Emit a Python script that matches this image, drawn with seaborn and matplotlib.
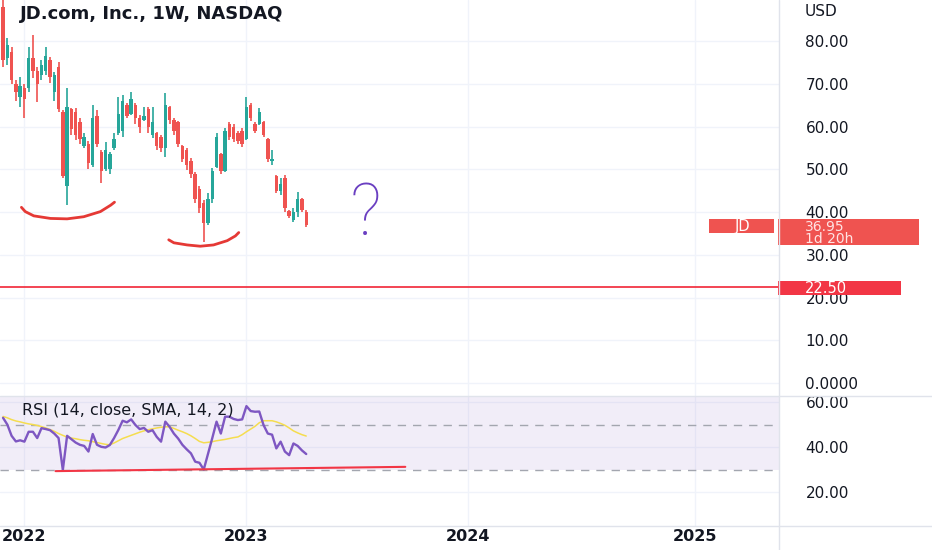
import numpy as np
import pandas as pd
import matplotlib
matplotlib.use("Agg")
import matplotlib.pyplot as plt
from matplotlib.lines import Line2D
from matplotlib.patches import Rectangle
from matplotlib.transforms import blended_transform_factory
import seaborn as sns

# ── values (weekly bars, JD) ─────────────────────────────────────────────────
first_week = "2021-11-29"

opens = [88, 76, 77.5, 70, 67, 69, 69, 76, 73, 72, 73, 75.5, 68, 74, 63.5, 46,
         64, 63.5, 61, 55.5, 56, 51, 62.5, 54, 50, 50, 55, 58.5, 59, 65, 63, 65,
         62, 61.5, 64, 58, 58.5, 57.5, 55, 64.5, 61.5, 61, 55.5, 54.5, 52, 49,
         45.5, 42, 37.5, 43, 50.5, 53.5, 49.5, 60.5, 60, 58.5, 59, 57, 65, 60.5,
         60.5, 61, 57, 52, 48.5, 45, 48, 40.2, 38.2, 40, 43, 40]
highs = [91, 80.8, 78.5, 71, 71.5, 70, 78.5, 81.3, 74, 75.5, 78.5, 76.2, 72.7, 75,
         63.8, 69, 64.3, 64.3, 62, 58.4, 56.5, 65, 63.8, 54.5, 56.3, 54, 58.4, 67,
         67.3, 65.5, 68, 65.5, 62.6, 64.5, 64.5, 64.5, 58.8, 58, 67.8, 64.8, 62,
         61.4, 55.7, 55, 52.6, 49.3, 46, 42.8, 44.4, 50.2, 58.6, 53.7, 59.6, 61,
         60.7, 59, 59.6, 66.8, 65.4, 61, 64.3, 61.4, 57.2, 54.4, 48.6, 47.9, 48.6,
         40.4, 40.9, 44.6, 43.2, 40.4]
lows = [74, 74.5, 70, 66, 64.5, 62, 68, 71.3, 65.7, 71, 72, 70.3, 66, 63.3, 47.9,
        41.6, 58, 56.8, 56, 55, 50, 50.5, 55.2, 46.7, 49.5, 49, 54.5, 58, 57.5, 62,
        62.8, 60.7, 58.4, 61.3, 58.6, 57.2, 54.4, 54, 52.8, 60.7, 58, 55.2, 51.6,
        49.8, 47.9, 42, 39.7, 33, 37, 42, 50.2, 49, 49.3, 56.8, 56.3, 56, 55.2,
        56.8, 61.4, 58.4, 60.3, 57.5, 51.6, 51, 44.4, 43.9, 40, 38.5, 37.6, 38.8,
        40, 36.5]
closes = [75.5, 79, 71, 68, 69.5, 66.5, 76, 73, 70, 74.5, 76.5, 71.5, 72, 64, 48.5,
          64.5, 59.5, 58, 57, 57.5, 51.5, 62, 56, 49.5, 54.5, 53.5, 57, 63, 66,
          62.5, 66.5, 62, 60, 62.5, 60, 61, 55.5, 55, 65, 61.5, 59, 56, 52.5, 51,
          49, 43, 41, 37.5, 43, 49.5, 57.5, 49.5, 59, 57.5, 57, 56.5, 56, 64.5, 62,
          59, 63.5, 58, 52.5, 52.5, 45, 46.5, 41, 39, 40, 43, 40.5, 36.95]

rsi = [53, 50, 45, 42.5, 43, 42.4, 46.8, 46.8, 44, 48.4, 48, 47.5, 46, 44, 29.8, 45,
       43.5, 42, 41, 40.5, 38, 45.8, 41, 40.1, 39.8, 40.9, 44, 47.6, 51.7, 51, 52.3,
       49.8, 48, 48.5, 46.8, 47.5, 44.5, 42.4, 51.3, 49, 46, 43.8, 41, 39, 37.2,
       33.5, 33, 30, 37, 44, 51.3, 46, 53.5, 53.5, 52.5, 52, 52.3, 58.2, 56, 55.7,
       55.8, 49.8, 46, 45.5, 39.4, 42.4, 38, 36.4, 41.6, 40.5, 38.5, 36.9]
rsi_ma = [53.6, 53, 52.2, 51.6, 51.2, 50.7, 50.3, 50, 49.6, 49.1, 48.5, 47.8, 47, 46,
          45.2, 44.4, 44, 43.7, 43.3, 43, 42.8, 42.4, 42, 41.6, 41.2, 41, 41.8, 42.8,
          43.8, 44.5, 45.2, 45.9, 46.6, 47.2, 47.7, 48.1, 48.5, 48.8, 49, 49, 48.3,
          47.5, 46.8, 46, 45, 43.8, 42.5, 41.9, 42.1, 42.4, 42.8, 43.1, 43.4, 43.8,
          44.2, 44.5, 45.5, 46.8, 48, 49.2, 50.8, 51.7, 51.7, 51.7, 51.2, 50.5, 49.7,
          48.5, 47.2, 46.3, 45.5, 44.9]

price_ticks = [80, 70, 60, 50, 40, 30, 20, 10, 0]
price_labels = ["80.00", "70.00", "60.00", "50.00", "40.00", "30.00", "20.00",
                "10.00", "0.0000"]
rsi_ticks = [60, 40, 20]
rsi_labels = ["60.00", "40.00", "20.00"]
year_ticks = ["2022-01-03", "2023-01-02", "2024-01-01", "2025-01-06"]
year_labels = ["2022", "2023", "2024", "2025"]
last_price = 36.95
level_price = 22.50

# hand-drawn marks (week offset from first bar, price / rsi)
arc1_wk = [4.3, 5.2, 7.2, 11.1, 15.0, 18.9, 22.8, 25.2, 26.1]
arc1_val = [41.1, 40.1, 39.1, 38.5, 38.4, 38.9, 40.1, 41.6, 42.3]
arc2_wk = [38.8, 40.0, 43.1, 46.2, 49.3, 52.5, 54.4, 55.2]
arc2_val = [33.5, 32.8, 32.3, 32.0, 32.3, 33.3, 34.4, 35.2]
rsi_line_wk = [12.3, 94.2]
rsi_line_val = [29.3, 31.2]

TEAL = "#26a69a"
RED = "#ef5350"
TXT = "#131722"
GRID = "#f0f3fa"
SEP = "#e0e3eb"

sns.set_theme(style="white")
plt.rcParams["font.family"] = ["DejaVu Sans"]

W, H = 932, 550
fig = plt.figure(figsize=(W / 100, H / 100), dpi=100)
fig.patch.set_facecolor("white")
pane_w = 779 / W
ax = fig.add_axes([0, 1 - 396 / H, pane_w, 396 / H])
ax_rsi = fig.add_axes([0, 24 / H, pane_w, 130 / H], sharex=ax)

start = pd.Timestamp(first_week)
df = pd.DataFrame({
    "week": pd.date_range(start, periods=len(opens), freq="7D"),
    "open": opens, "high": highs, "low": lows, "close": closes,
    "rsi": rsi, "rsi_ma": rsi_ma,
})


def wk(offsets):
    return [start + pd.Timedelta(days=7 * o) for o in offsets]


# ── price pane ─────────────────────────────────────────────────────────────
up = df["close"] >= df["open"]
colors = np.where(up, TEAL, RED)
ax.vlines(df["week"], df["low"], df["high"], colors=colors, lw=1.2, zorder=3)
body_lo = np.minimum(df["open"], df["close"])
body_h = np.maximum((df["close"] - df["open"]).abs(), 0.4)
ax.bar(df["week"], body_h, bottom=body_lo, width=5.6, color=colors,
       linewidth=0, zorder=3)

ax.axhline(level_price, color="#f23645", lw=1.3, zorder=4)
ax.plot(wk(arc1_wk), arc1_val, color="#e53935", lw=2.0,
        solid_capstyle="round", zorder=5)
ax.plot(wk(arc2_wk), arc2_val, color="#e53935", lw=2.0,
        solid_capstyle="round", zorder=5)
ax.text(wk([84.9])[0], 34.6, "?", fontsize=52, color="#6a3fc1",
        family=["Roboto", "DejaVu Sans"], fontweight="light",
        ha="center", va="baseline", zorder=5)

ax.set_ylim(-3.04, 89.6)
ax.set_xlim(pd.Timestamp("2021-11-24"), pd.Timestamp("2025-05-24"))
ax.set_yticks(price_ticks)
ax.set_yticklabels(price_labels)
ax.yaxis.tick_right()
ax.tick_params(axis="y", length=0, pad=19, labelsize=11, labelcolor=TXT)
ax.tick_params(axis="x", length=0, labelbottom=False)
ax.set_xticks(pd.to_datetime(year_ticks))
ax.grid(True, color=GRID, lw=1)
ax.set_xlabel("")
ax.set_ylabel("")

# ── RSI pane ───────────────────────────────────────────────────────────────
ax_rsi.axhspan(30, 70, color="#7e57c2", alpha=0.1, lw=0, zorder=1)
for lvl in (50, 30):
    ax_rsi.axhline(lvl, color="#a3a6af", ls=(0, (6, 5)), lw=1, zorder=2)
sns.lineplot(data=df, x="week", y="rsi_ma", ax=ax_rsi, color="#f5dd4f",
             lw=1.1, zorder=3)
sns.lineplot(data=df, x="week", y="rsi", ax=ax_rsi, color="#7e57c2",
             lw=1.7, zorder=4)
ax_rsi.plot(wk(rsi_line_wk), rsi_line_val, color="#f23645", lw=1.5, zorder=5)

ax_rsi.set_ylim(4.9, 62.7)
ax_rsi.set_yticks(rsi_ticks)
ax_rsi.set_yticklabels(rsi_labels)
ax_rsi.yaxis.tick_right()
ax_rsi.tick_params(axis="y", length=0, pad=19, labelsize=11, labelcolor=TXT)
ax_rsi.set_xticks(pd.to_datetime(year_ticks))
ax_rsi.set_xticklabels(year_labels)
ax_rsi.tick_params(axis="x", length=0, pad=2.5, labelsize=11.5, labelcolor=TXT)
for lbl in ax_rsi.get_xticklabels():
    lbl.set_fontweight("bold")
ax_rsi.grid(True, color=GRID, lw=1)
ax_rsi.set_xlabel("")
ax_rsi.set_ylabel("")

for a in (ax, ax_rsi):
    for s in a.spines.values():
        s.set_visible(False)
    a.set_facecolor("white")

# ── frame lines, labels, price tags ────────────────────────────────────────
fig.add_artist(Line2D([pane_w, pane_w], [0, 1], transform=fig.transFigure,
                      color=SEP, lw=1))
for yy in (1 - 396 / H, 24 / H):
    fig.add_artist(Line2D([0, 1], [yy, yy], transform=fig.transFigure,
                          color=SEP, lw=1))

fig.text(20 / W, 1 - 14 / H, "JD.com, Inc., 1W, NASDAQ", fontsize=13,
         fontweight="bold", color=TXT, va="center", ha="left")
fig.text(22 / W, 1 - 410 / H, "RSI (14, close, SMA, 14, 2)", fontsize=11.5,
         color=TXT, va="center", ha="left")
fig.text(805 / W, 1 - 12 / H, "USD", fontsize=11, color=TXT,
         va="center", ha="left")

trans = blended_transform_factory(fig.transFigure, ax.transData)
fig.add_artist(Rectangle((709 / W, last_price - 1.86), 65 / W, 3.27,
                         transform=trans, color=RED, lw=0))
fig.add_artist(Rectangle((778 / W, last_price - 4.67), 141 / W, 6.08,
                         transform=trans, color=RED, lw=0))
fig.add_artist(Rectangle((778 / W, level_price - 1.92), 123 / W, 3.28,
                         transform=trans, color="#f23645", lw=0))
fig.text(742 / W, last_price - 0.25, "JD", transform=trans, fontsize=10.5,
         color="white", ha="center", va="center")
fig.text(805 / W, last_price - 0.35, f"{last_price:.2f}", transform=trans,
         fontsize=10, color="#ffe3e3", ha="left", va="center")
fig.text(805 / W, last_price - 3.15, "1d 20h", transform=trans,
         fontsize=10, color="#ffe3e3", ha="left", va="center")
fig.text(805 / W, level_price - 0.3, f"{level_price:.2f}", transform=trans,
         fontsize=10.5, color="white", ha="left", va="center")

fig.savefig("out.png", dpi=100, facecolor="white")
